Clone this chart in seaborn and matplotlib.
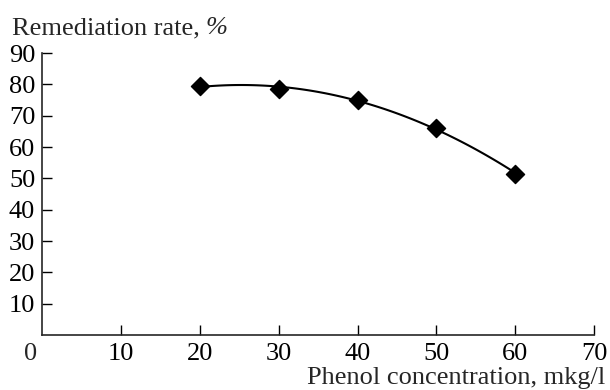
import numpy as np
import pandas as pd
import matplotlib
matplotlib.use("Agg")
import matplotlib.pyplot as plt
import seaborn as sns

# data
concentration = [20, 30, 40, 50, 60]
remediation = [79.5, 78.5, 75.0, 66.0, 51.5]
x_ticks = [10, 20, 30, 40, 50, 60, 70]
y_ticks = [10, 20, 30, 40, 50, 60, 70, 80, 90]

df = pd.DataFrame({"conc": concentration, "rate": remediation})

sns.set_style("ticks")
plt.rcParams["font.family"] = ["Liberation Serif", "DejaVu Serif"]
plt.rcParams["font.size"] = 19

fig = plt.figure(figsize=(6.1, 3.9), dpi=100)
ax = fig.add_axes([0.069, 0.141, 0.905, 0.723])

sns.regplot(data=df, x="conc", y="rate", order=2, ci=None, ax=ax,
            color="black", marker="D",
            scatter_kws={"s": 85, "zorder": 3, "alpha": 1},
            line_kws={"lw": 1.5})

ax.set_xlim(0, 70)
ax.set_ylim(0, 90)
ax.set_xticks(x_ticks)
ax.set_yticks(y_ticks)
ax.tick_params(direction="in", length=7, width=1, colors="black", labelsize=19)
ax.tick_params(axis="x", pad=6)
ax.tick_params(axis="y", pad=5)
sns.despine(ax=ax)
for s in ["left", "bottom"]:
    ax.spines[s].set_linewidth(1.2)
ax.set_xlabel("")
ax.set_ylabel("")

# corner zero and axis titles
fig.text(31 / 610, 1 - 354 / 390, "0", ha="center", va="center", fontsize=19)
ylab = fig.text(12 / 610, 1 - 34 / 390, "Remediation rate,",
                ha="left", va="baseline", fontsize=19)
ax.annotate("%", xy=(1, 0), xycoords=ylab, xytext=(4, 0), textcoords="offset points",
            ha="left", va="bottom", fontsize=19, style="italic", annotation_clip=False)
fig.text(605 / 610, 1 - 384 / 390, "Phenol concentration, mkg/l",
         ha="right", va="baseline", fontsize=19)

fig.savefig("out.png", dpi=100)
